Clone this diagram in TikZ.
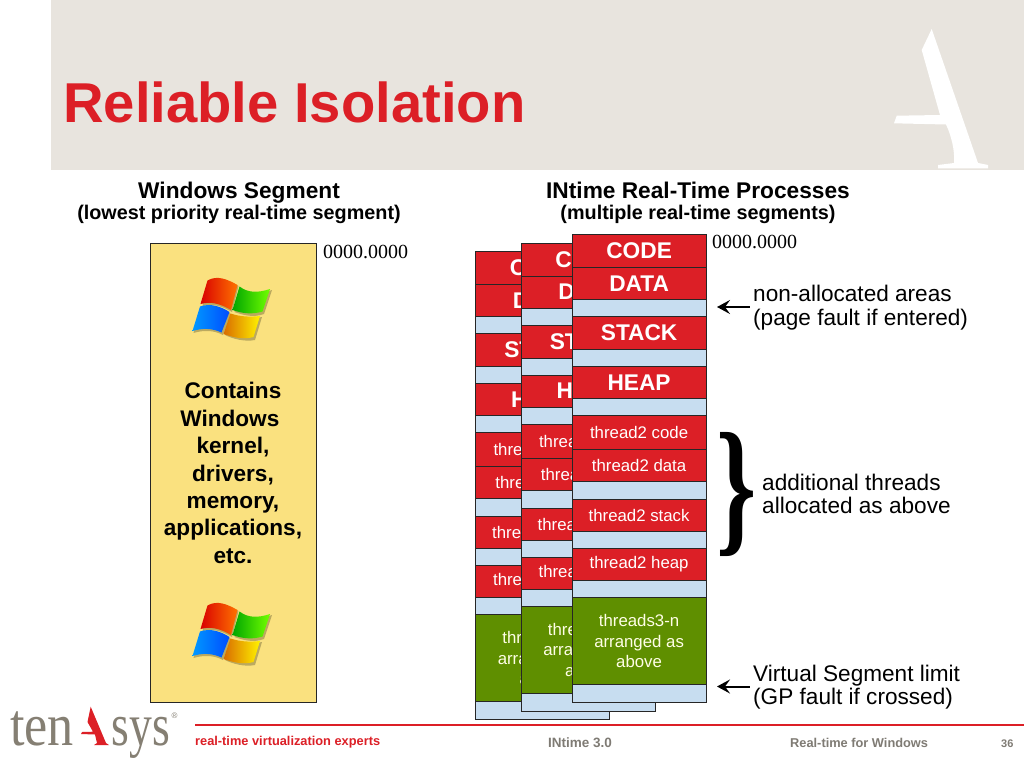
\documentclass[tikz,border=0pt]{standalone}
\usepackage{fontspec}
\usetikzlibrary{arrows.meta}
\setmainfont{Liberation Sans}
\newfontfamily\addrfont{Liberation Serif}
\definecolor{slidered}{HTML}{DC1F26}
\definecolor{headbg}{HTML}{E8E4DE}
\definecolor{segyellow}{HTML}{FAE17F}
\definecolor{seggreen}{HTML}{5F8F00}
\definecolor{segblue}{HTML}{C7DDF0}
\definecolor{logogray}{HTML}{857F73}
\definecolor{footgray}{HTML}{7F7B74}
\tikzset{
	seg/.style={draw=black!85,line width=1.2pt,minimum width=134pt,inner sep=0pt,anchor=north west,align=center},
	codeseg/.style={seg,fill=slidered,text=white,font=\fontsize{22.7}{22.7}\selectfont\bfseries},
	threadseg/.style={seg,fill=slidered,text=white,font=\fontsize{16.8}{16.8}\selectfont},
	moreseg/.style={seg,fill=seggreen,text=white!90!yellow,font=\fontsize{16.8}{20.5}\selectfont},
	holeseg/.style={seg,fill=segblue},
	headtext/.style={font=\fontsize{22.7}{24}\selectfont\bfseries},
	subtext/.style={font=\fontsize{19.8}{20}\selectfont\bfseries},
	notetext/.style={font=\fontsize{22.6}{23.5}\selectfont,align=left,anchor=west,inner sep=0pt},
	addrtext/.style={font=\addrfont\fontsize{20}{20}\selectfont,anchor=west,inner sep=0pt},
	notearrow/.style={-{Stealth[length=13pt,width=14pt,inset=5pt]},line width=2pt,shorten <=3.5pt},
	foottext/.style={font=\fontsize{12.8}{12.8}\selectfont\bfseries,anchor=west,inner sep=0pt},
}
% one memory map, top left corner at the scope origin
\newcommand{\memstack}[1]{
	\foreach \segname/\segstyle/\segtop/\seghigh/\seglbl in {
		code/codeseg/0/33/CODE,
		data/codeseg/33/32/DATA,
		holea/holeseg/65/17/{},
		stack/codeseg/82/33/STACK,
		holeb/holeseg/115/17/{},
		heap/codeseg/132/32/HEAP,
		holec/holeseg/164/17/{},
		tcode/threadseg/181/34/thread2 code,
		tdata/threadseg/215/32/thread2 data,
		holed/holeseg/247/18/{},
		tstack/threadseg/265/32/thread2 stack,
		holee/holeseg/297/17/{},
		theap/threadseg/314/32/thread2 heap,
		holef/holeseg/346/17/{},
		more/moreseg/363/87/{threads3-n\\arranged as\\above},
		holeg/holeseg/450/18/{}}
	{
		\node[\segstyle,minimum height=\seghigh pt] (#1\segname) at (0,\segtop) {\seglbl};
	}
}
\newcommand{\winflag}{
	\fill[black!25!segyellow] (38.5,21.5) .. controls (48,16) and (58,20) .. (68.5,26) -- (62,52) .. controls (52,46) and (42,43) .. (32.5,46) -- cycle;
	\fill[black!25!segyellow] (71,28) .. controls (80,35) and (90,35) .. (102,30) -- (94,54) .. controls (83,58) and (73,55) .. (64.5,52) -- cycle;
	\fill[black!25!segyellow] (31.5,48) .. controls (42,45) and (52,48) .. (61,54) -- (53,75) .. controls (44,70) and (33,70) .. (23.5,73) -- cycle;
	\fill[black!25!segyellow] (63,55) .. controls (73,58) and (83,59) .. (92,57) -- (85,80) .. controls (75,82) and (63,79) .. (55,75) -- cycle;
	\shade[left color=red!85!black,right color=orange!90!red] (37.5,20.5) .. controls (47,15) and (57,19) .. (67.5,25) -- (61,50) .. controls (51,44) and (41,41) .. (30.5,44) -- cycle;
	\shade[left color=green!65!black,right color=green!55!yellow] (69.5,26.5) .. controls (78,33) and (88,33) .. (100,29) -- (92.5,51.5) .. controls (81,55) and (71,53) .. (62.5,50) -- cycle;
	\shade[left color=cyan!60!blue,right color=blue!70!cyan] (30,46.5) .. controls (40,43) and (50,46) .. (59.5,52) -- (51.5,72.5) .. controls (42,68) and (32,68) .. (22.5,71) -- cycle;
	\shade[left color=orange!85!black,right color=yellow!90!orange] (60.5,53.5) .. controls (71,57) and (81,57) .. (90,56) -- (83.5,77) .. controls (73,80) and (62,77) .. (53.5,74) -- cycle;
}
\begin{document}
\begin{tikzpicture}[x=1pt,y=-1pt]
	\useasboundingbox (0,0) rectangle (1024,768);
	\fill[white] (0,0) rectangle (1024,768);
	% header band
	\fill[headbg] (51,0) rectangle (1024,170);
	\fill[white] (931.7,29) -- (921.7,50) -- (940,115) -- (896.7,115.7) -- (894,123.3) -- (946,124.5)
		.. controls (951,135) and (955,150) .. (954,163) -- (938,165) -- (938,168.3) -- (988,168.3) -- (988,165) -- (978,163) -- cycle;
	\node[anchor=west,inner sep=0pt,text=slidered,font=\fontsize{56.2}{56.2}\selectfont\bfseries] (title) at (63,102) {Reliable Isolation};
	% column headings
	\node[headtext] (winhead) at (239,193) {Windows Segment};
	\node[subtext] (winsub) at (239,214) {(lowest priority real-time segment)};
	\node[headtext] (rthead) at (698,190.5) {INtime Real-Time Processes};
	\node[subtext] (rtsub) at (698,214) {(multiple real-time segments)};
	% windows segment
	\node[draw=black!85,line width=1.2pt,fill=segyellow,minimum width=166pt,minimum height=459pt,anchor=north west] (winseg) at (150,243) {};
	\node[align=center,font=\fontsize{22.6}{27.4}\selectfont\bfseries,inner sep=0pt] (wintext) at (233,473) {Contains\\Windows~\hspace*{4pt}\\kernel,\\drivers,\\memory,\\applications,\\etc.};
	\begin{scope}[shift={(170,260)}]
		\winflag
	\end{scope}
	\begin{scope}[shift={(170,585)}]
		\winflag
	\end{scope}
	\node[addrtext] (addra) at (323,252) {0000.0000};
	% real-time stacks, back to front
	\begin{scope}[shift={(475,251)}]
		\memstack{b}
	\end{scope}
	\begin{scope}[shift={(520.5,242.5)}]
		\memstack{m}
	\end{scope}
	\begin{scope}[shift={(571.5,234)}]
		\memstack{f}
	\end{scope}
	\node[addrtext] (addrb) at (712,242) {0000.0000};
	% notes on the right
	\node[notetext] (holenote) at (753,307.5) {non-allocated areas\\(page fault if entered)};
	\node[notetext] (threadnote) at (762,494) {additional threads\\allocated as above};
	\node[notetext] (limitnote) at (753,687) {Virtual Segment limit\\(GP fault if crossed)};
	\coordinate (holetip) at (717,307);
	\coordinate (limittip) at (717,686.5);
	\draw[notearrow] (holenote.west |- holetip) -- (holetip);
	\draw[notearrow] (limitnote.west |- limittip) -- (limittip);
	\node[font=\addrfont\bfseries\fontsize{150}{150}\selectfont,xscale=0.68,inner sep=0pt] (threadbrace) at (736.5,494) {\}};
	% footer
	\draw[slidered,line width=1.5pt] (195,725) -- (1024,725);
	\node[foottext,text=slidered] (foota) at (195,742.5) {real-time virtualization experts};
	\node[foottext,text=footgray,font=\fontsize{13.5}{13.5}\selectfont\bfseries] (footb) at (548,742.5) {INtime 3.0};
	\node[foottext,text=footgray] (footc) at (790,742.5) {Real-time for Windows};
	\node[foottext,text=footgray,font=\fontsize{11}{11}\selectfont\bfseries] (footd) at (1001,744) {36};
	% logo
	\node[anchor=base west,inner sep=0pt,text=logogray,font=\addrfont\fontsize{60}{60}\selectfont,xscale=0.87] (logoa) at (10,745) {ten};
	\node[anchor=base east,inner sep=0pt,text=logogray,font=\addrfont\fontsize{60}{60}\selectfont,xscale=0.76] (logob) at (170,745) {sys};
	\fill[slidered] (90.7,706.7) -- (87.5,722) -- (93,731.7) -- (82,732) -- (81,734) -- (95,734.5) -- (97,743) -- (94,745) -- (109,745) -- (106,743) -- cycle;
	\node[inner sep=0pt,text=logogray,font=\fontsize{8}{8}\selectfont] (logoc) at (174.5,716) {®};
\end{tikzpicture}
\end{document}
